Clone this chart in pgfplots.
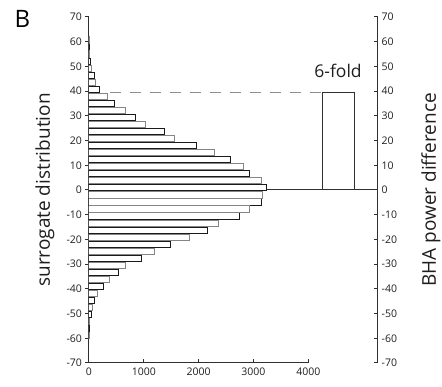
\documentclass[border=0pt]{standalone}
\usepackage{pgfplots}
\pgfplotsset{compat=1.18}
\usepackage{fontspec}
\setmainfont{Open Sans}
\definecolor{axcol}{HTML}{303030}
\definecolor{txtcol}{HTML}{1E1E1E}
\definecolor{darkbar}{HTML}{1A1A1A}
\definecolor{graybar}{HTML}{858585}
\definecolor{dashcol}{HTML}{8E8E8E}
\begin{document}
\begin{tikzpicture}
\useasboundingbox (-89pt,-24pt) rectangle (353pt,363pt);
\node[anchor=base west, font=\fontsize{24}{24}\selectfont, text=black] at (-78pt,335pt) {B};
% right axis with 6-fold bar
\begin{axis}[
  at={(0pt,0pt)}, anchor=south west,
  scale only axis, width=288.7pt, height=346pt,
  xmin=0, xmax=5266, ymin=-70, ymax=70,
  axis y line*=right, hide x axis,
  axis line style={axcol, line width=1pt, -},
  ytick={-70,-60,...,70},
  tick align=inside, major tick length=3.5pt,
  tick style={axcol, line width=1pt},
  /pgf/number format/assume math mode=true,
  yticklabel style={font=\fontsize{10.5}{12}\selectfont, text=txtcol, xshift=0.5pt},
  every axis y label/.style={at={(axis description cs:1.1846,0.5)}, rotate=90, anchor=center},
  ylabel={BHA power difference},
  ylabel style={font=\fontsize{19}{22}\selectfont, text=txtcol},
  clip=false,
]
\addplot[axcol, line width=1pt] coordinates {(0,0) (5266,0)};
\addplot[dashcol, line width=1.1pt, dash pattern=on 11pt off 9pt] coordinates {(383,39.5) (4250,39.5)};
\addplot[axcol, line width=1pt] coordinates {(4250,0) (4250,39.5) (4834,39.5) (4834,0)};
\node[anchor=base, font=\fontsize{17.5}{20}\selectfont, text=txtcol] at (axis cs:4542,39.5) [yshift=15pt] {6-fold};
\end{axis}
% histogram
\begin{axis}[
  at={(0pt,0pt)}, anchor=south west,
  scale only axis, width=219.3pt, height=346pt,
  xmin=0, xmax=4000, ymin=-70, ymax=70,
  axis x line*=bottom, axis y line*=left,
  axis line style={axcol, line width=1pt, -},
  xtick={0,1000,2000,3000,4000},
  ytick={-70,-60,...,70},
  scaled x ticks=false,
  /pgf/number format/set thousands separator={},
  /pgf/number format/assume math mode=true,
  tick align=inside, major tick length=3.5pt,
  tick style={axcol, line width=1pt},
  xticklabel style={font=\fontsize{10.5}{12}\selectfont, text=txtcol, yshift=-1pt},
  yticklabel style={font=\fontsize{10.5}{12}\selectfont, text=txtcol},
  every axis y label/.style={at={(axis description cs:-0.2006,0.5)}, rotate=90, anchor=center},
  ylabel={surrogate distribution},
  ylabel style={font=\fontsize{19}{22}\selectfont, text=txtcol},
  xbar, bar width=2.5, bar shift=0pt,
]
\addplot[xbar, bar shift=0pt, draw=darkbar, fill=white, line width=1pt] coordinates {
(5,57.85) (20,52.15) (92,46.45) (196,40.75) (459,35.05) (844,29.35) (1376,23.65)
(1957,17.95) (2587,12.25) (2936,6.55) (3242,0.85) (3138,-4.85) (2752,-10.55)
(2153,-16.25) (1480,-21.95) (960,-27.65) (532,-33.35) (269,-39.05) (104,-44.75)
(43,-50.45) (6,-56.15)};
\addplot[xbar, bar shift=0pt, draw=graybar, fill=white, line width=1pt] coordinates {
(2,60.7) (10,55.0) (40,49.3) (122,43.6) (330,37.9) (673,32.2) (1034,26.5)
(1566,20.8) (2294,15.1) (2814,9.4) (3150,3.7) (3163,-2.0) (2936,-7.7)
(2367,-13.4) (1835,-19.1) (1187,-24.8) (673,-30.5) (379,-36.2) (147,-41.9)
(61,-47.6) (12,-53.3) (3,-59.0)};
\end{axis}
\end{tikzpicture}
\end{document}
